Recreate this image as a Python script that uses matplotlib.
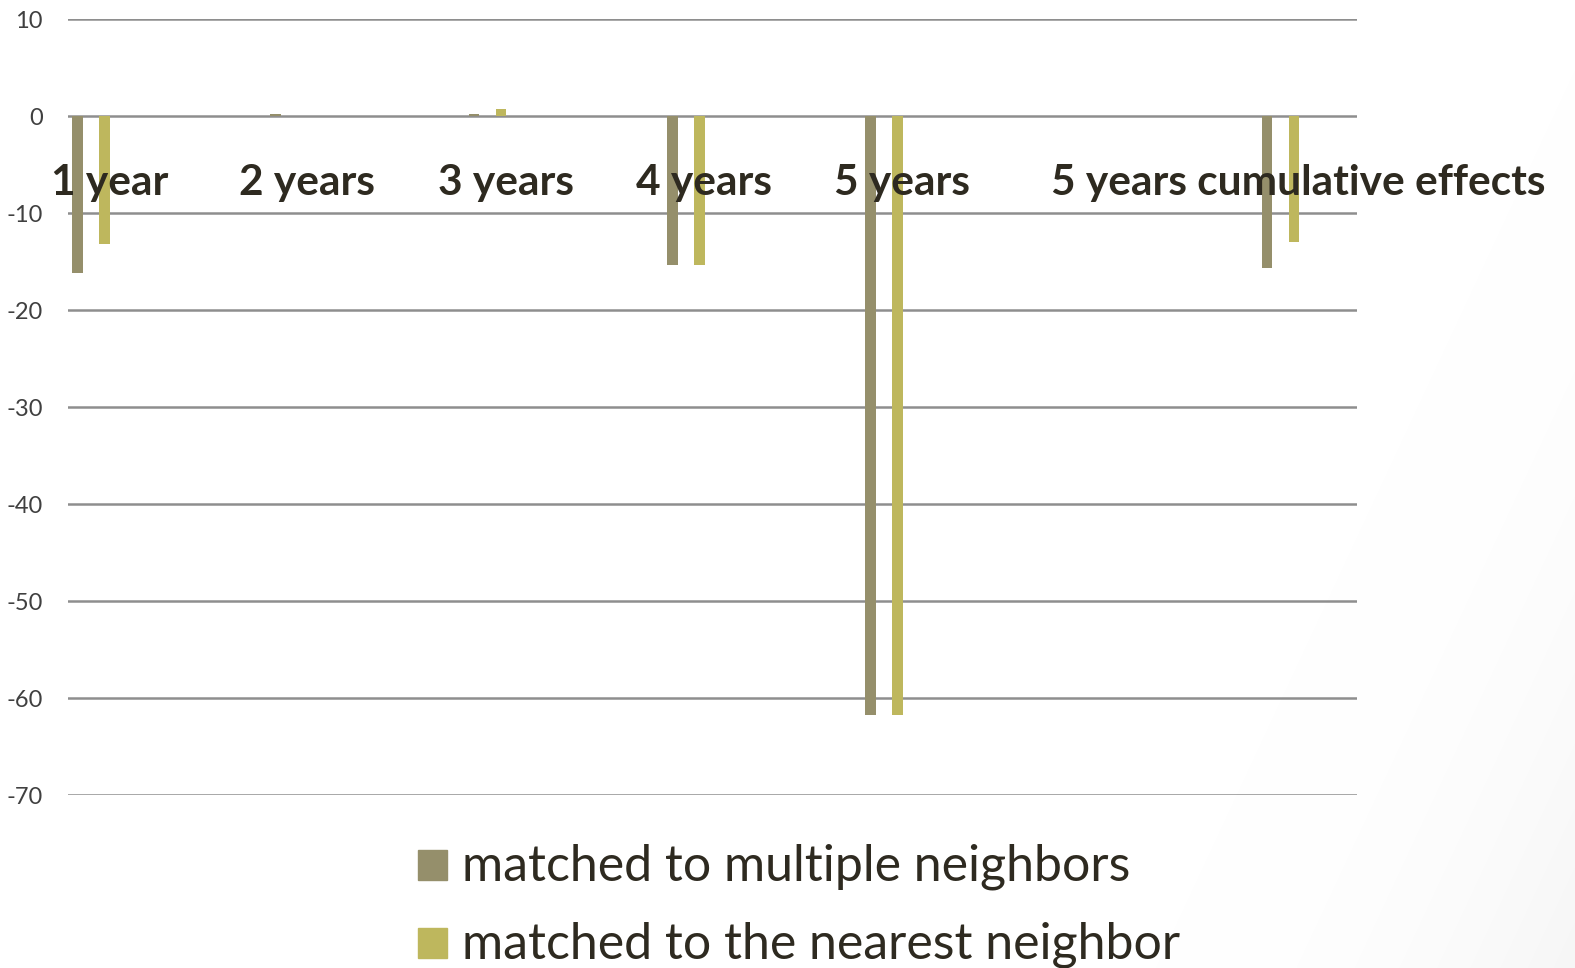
import numpy as np
import matplotlib.pyplot as plt
from matplotlib.patches import Rectangle

plt.rcParams["axes.unicode_minus"] = False

# ------------------------------------------------------------
# Data
# ------------------------------------------------------------

categories = ["1 year", "2 years", "3 years", "4 years", "5 years",
              "5 years cumulative effects"]
slots = [0, 1, 2, 3, 4, 6]          # category slot on the x axis

multiple = [-16.2, 0.25, 0.2, -15.3, -61.7, -15.7]
nearest = [-13.2, 0.05, 0.8, -15.3, -61.7, -13.0]

series_names = ["matched to multiple neighbors",
                "matched to the nearest neighbor"]

C_MULT = "#958F6B"
C_NEAR = "#BEB75D"
C_TEXT = "#2E2A20"
C_GRID = "#8E8E8E"

FONT = ["Lato", "DejaVu Sans"]

FW, FH = 1575, 968

# ------------------------------------------------------------
# Figure
# ------------------------------------------------------------

fig = plt.figure(figsize=(FW / 100, FH / 100), dpi=100)

# soft grey shading in the lower right corner of the slide
yy, xx = np.mgrid[0:FH, 0:FW]
d = (xx - FW) / 420.0 + (yy - FH) / 900.0
shade = np.clip(1 + d, 0, 1) ** 2 * 0.035
bg = np.dstack([1 - shade] * 3)
fig.figimage(bg, xo=0, yo=0, origin="upper", zorder=-1)

ax = fig.add_axes([68 / FW, 1 - 795 / FH, (1357 - 68) / FW, (795 - 19.3) / FH])
ax.set_zorder(1)
ax.patch.set_alpha(0)

x = np.array(slots, dtype=float)
W = 0.055
OFF = 0.136

ax.bar(x, multiple, width=W, color=C_MULT, zorder=3)
ax.bar(x + OFF, nearest, width=W, color=C_NEAR, zorder=3)

ax.set_xlim(-0.048, 6.454)
ax.set_ylim(-70, 10)
ax.set_yticks(np.arange(-70, 11, 10))
ax.yaxis.grid(True, color=C_GRID, lw=1.8)
ax.set_axisbelow(True)
ax.set_xticks([])

for s in ax.spines.values():
    s.set_visible(False)

ax.tick_params(axis="y", length=0, pad=18, labelsize=17, labelcolor="#404040")
for lab in ax.get_yticklabels():
    lab.set_fontfamily(FONT)

# category labels sit just under the zero line
for xi, name in zip(x, categories):
    ax.text(xi + 0.16, -6.9, name, ha="center", va="center",
            fontsize=30.5, fontweight="bold", color=C_TEXT,
            family=FONT, zorder=4, clip_on=False)

# ------------------------------------------------------------
# Legend
# ------------------------------------------------------------

for i, (name, col) in enumerate(zip(series_names, [C_MULT, C_NEAR])):
    base = 880 + 78 * i
    fig.add_artist(Rectangle((418 / FW, 1 - base / FH), 29 / FW, 30 / FH,
                             transform=fig.transFigure, color=col))
    fig.text(462 / FW, 1 - base / FH, name, ha="left", va="baseline",
             fontsize=36, color=C_TEXT, family=FONT)

fig.savefig("out.png", dpi=100)
